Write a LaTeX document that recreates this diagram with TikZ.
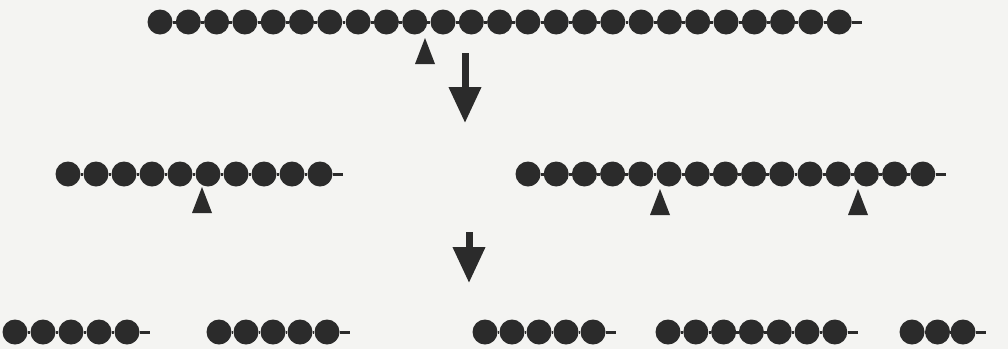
\documentclass[tikz,border=0pt]{standalone}
\usepackage{tikz}
\usetikzlibrary{positioning,arrows.meta}
\definecolor{paper}{HTML}{F4F4F2}
\definecolor{ink}{HTML}{2B2B2B}
\tikzset{bead/.style={circle,fill=ink,inner sep=0pt,minimum size=25pt},
  link/.style={draw=ink,line width=3pt},
  cutarrow/.style={draw=ink,line width=7pt,-{Triangle[length=36pt,width=31pt,fill=ink]}}}
% a row of beads: name, first x, y, number of beads, spacing
\newcommand{\beadrow}[5]{%
  \foreach \i in {1,...,#4}{
    \node[bead] (#1\i) at ({#2+(\i-1)*#5},#3) {};}
  \foreach \i [remember=\i as \lasti (initially 1)] in {2,...,#4}{
    \draw[link] (#1\lasti.east) -- (#1\i.west);}
  \coordinate[right=10pt of #1#4] (#1tail);
  \draw[link] (#1#4.east) -- (#1tail);}
% a cut mark pointing up at a coordinate
\newcommand{\cutmark}[3]{%
  \coordinate (#1) at (#2,#3);
  \fill[ink] (#1) -- ++(-10,26) -- ++(20,0) -- cycle;}
\begin{document}
\begin{tikzpicture}[x=1pt,y=-1pt]
\fill[paper] (0,0) rectangle (1008,349);
\useasboundingbox (0,0) rectangle (1008,349);
% whole chain
\beadrow{top}{160}{22}{25}{28.3}
\cutmark{cuttop}{425}{38}
% first cut
\coordinate (a1s) at (465,53);
\coordinate (a1e) at (465,123);
\draw[cutarrow] (a1s) -- (a1e);
\beadrow{ml}{68}{174}{10}{28}
\beadrow{mr}{528}{174}{15}{28.2}
\cutmark{cutml}{202}{187}
\cutmark{cutmra}{660}{189}
\cutmark{cutmrb}{858}{189}
% second cut
\coordinate (a2s) at (469,232);
\coordinate (a2e) at (469,283);
\draw[cutarrow] (a2s) -- (a2e);
\beadrow{ba}{15}{332}{5}{28}
\beadrow{bb}{219}{332}{5}{27}
\beadrow{bc}{485}{332}{5}{27}
\beadrow{bd}{668}{332}{7}{27.8}
\beadrow{be}{912}{332}{3}{25.5}
\end{tikzpicture}
\end{document}
